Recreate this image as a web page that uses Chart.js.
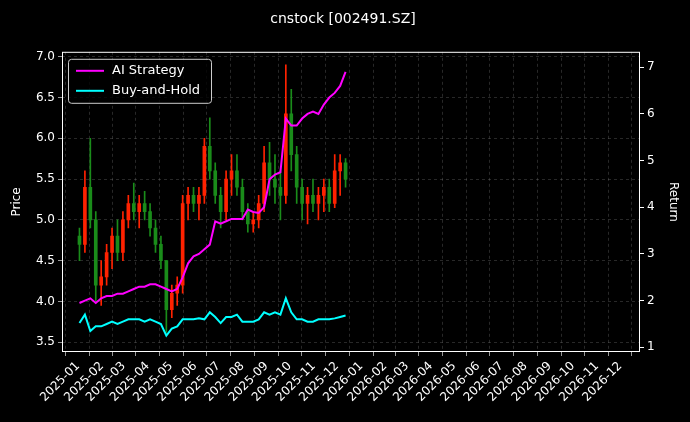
<!DOCTYPE html>
<html>
<head>
<meta charset="utf-8">
<script src="https://cdn.jsdelivr.net/npm/chart.js@4/dist/chart.umd.min.js"></script>
<style>
  html, body { margin: 0; padding: 0; background: #000; }
  #wrap { width: 690px; height: 422px; }
</style>
</head>
<body>
<div id="wrap"><canvas id="c" width="690" height="422"></canvas></div>
<script>
// weekly sample days, counted from 2025-01-01
const days = Array.from({length: 50}, (_, i) => i * 7 + 2);
// candles: open, high, low, close
const opens  = [4.8,4.7,5.4,5.0,4.2,4.3,4.6,4.8,4.6,5.0, 5.2,5.1,5.2,5.1,4.9,4.7,4.5,3.9,4.1,4.2, 5.2,5.3,5.2,5.3,5.9,5.6,5.3,5.1,5.5,5.6, 5.4,5.1,4.95,5.0,5.2,5.7,5.5,5.4,5.3,6.3, 5.8,5.4,5.2,5.3,5.2,5.3,5.4,5.2,5.6,5.7];
const highs  = [4.9,5.6,6.0,5.1,4.5,4.7,4.9,5.0,5.1,5.3, 5.45,5.3,5.35,5.2,5.0,4.8,4.5,4.2,4.3,5.3, 5.4,5.4,5.4,6.0,6.25,5.7,5.4,5.6,5.8,5.8, 5.5,5.2,5.1,5.3,5.9,5.95,5.8,5.6,6.9,6.6, 5.9,5.5,5.4,5.5,5.4,5.5,5.5,5.8,5.8,5.75];
const lows   = [4.5,4.6,4.9,4.0,3.95,4.2,4.4,4.5,4.5,4.9, 5.0,4.9,5.0,4.8,4.6,4.4,3.62,3.8,3.95,4.1, 5.0,5.1,5.0,5.2,5.5,5.2,4.9,5.0,5.3,5.3, 5.0,4.85,4.85,4.9,5.1,5.3,5.2,5.0,5.2,5.6, 5.2,5.0,4.95,5.1,5.0,5.1,5.1,5.15,5.3,5.4];
const closes = [4.7,5.4,5.0,4.2,4.3,4.6,4.8,4.6,5.0,5.2, 5.1,5.2,5.1,4.9,4.7,4.5,3.9,4.1,4.2,5.2, 5.3,5.2,5.3,5.9,5.6,5.3,5.1,5.5,5.6,5.4, 5.1,4.95,5.0,5.2,5.7,5.5,5.4,5.3,6.3,5.8, 5.4,5.2,5.3,5.2,5.3,5.4,5.2,5.6,5.7,5.5];
// cumulative returns
const aiReturn  = [1.95,2.0,2.05,1.95,2.05,2.1,2.1,2.15,2.15,2.2, 2.25,2.3,2.3,2.35,2.35,2.3,2.25,2.2,2.25,2.5, 2.8,2.95,3.0,3.1,3.2,3.7,3.65,3.7,3.75,3.75, 3.75,3.95,3.9,3.88,4.0,4.6,4.7,4.75,5.9,5.75, 5.75,5.9,6.0,6.05,6.0,6.2,6.35,6.45,6.6,6.9];
const bhReturn  = [1.52,1.7,1.35,1.45,1.45,1.5,1.55,1.5,1.55,1.6, 1.6,1.6,1.55,1.6,1.55,1.5,1.25,1.4,1.45,1.6, 1.6,1.6,1.62,1.6,1.75,1.65,1.52,1.65,1.65,1.7, 1.55,1.55,1.55,1.6,1.75,1.7,1.75,1.7,2.05,1.75, 1.6,1.6,1.55,1.55,1.6,1.6,1.6,1.62,1.65,1.68];
const priceTicks = [3.5, 4.0, 4.5, 5.0, 5.5, 6.0, 6.5, 7.0];
const returnTicks = [1, 2, 3, 4, 5, 6, 7];
// month tick labels
const monthLabels = [];
for (let y = 2025; y <= 2026; y++)
  for (let m = 1; m <= 12; m++) monthLabels.push(y + '-' + String(m).padStart(2, '0'));

const t0 = Date.UTC(2025, 0, 1);
const monthDays = monthLabels.map(s => {
  const [y, m] = s.split('-').map(Number);
  return Math.round((Date.UTC(y, m - 1, 1) - t0) / 86400000);
});

const upCol = '#ff2200', dnCol = '#1a8c1a';
const candleCol = opens.map((o, i) => closes[i] >= o ? upCol : dnCol);

const legendBox = {
  id: 'legendBox',
  afterDraw(chart) {
    const ctx = chart.ctx, a = chart.chartArea;
    const x = a.left + 6, y = a.top + 7;
    ctx.save();
    ctx.fillStyle = 'rgba(0,0,0,0.8)';
    ctx.strokeStyle = '#cccccc';
    ctx.lineWidth = 1;
    ctx.beginPath();
    ctx.roundRect(x + 0.5, y + 0.5, 143, 44, 3);
    ctx.fill(); ctx.stroke();
    const items = [['AI Strategy', '#ff00ff'], ['Buy-and-Hold', '#00ffff']];
    ctx.font = '13px "DejaVu Sans"';
    ctx.textBaseline = 'middle';
    items.forEach(([t, c], i) => {
      const yy = y + 12 + i * 20;
      ctx.strokeStyle = c; ctx.lineWidth = 2;
      ctx.beginPath(); ctx.moveTo(x + 8, yy); ctx.lineTo(x + 36, yy); ctx.stroke();
      ctx.fillStyle = '#fff';
      ctx.fillText(t, x + 44, yy);
    });
    ctx.restore();
  }
};

const frame = {
  id: 'frame',
  afterDatasetsDraw(chart) {
    const ctx = chart.ctx, a = chart.chartArea;
    ctx.save();
    ctx.strokeStyle = '#fff'; ctx.lineWidth = 1;
    ctx.strokeRect(a.left + 0.5, a.top + 0.5, a.width - 1, a.height - 1);
    ctx.restore();
  }
};

const gridOpts = { color: 'rgba(150,150,150,0.45)', lineWidth: 0.6, drawTicks: true, tickColor: '#fff', tickLength: 4 };
const border = { display: false, dash: [3, 3] };
const font = { size: 12, family: 'DejaVu Sans' };

new Chart(document.getElementById('c'), {
  data: {
    datasets: [
      { type: 'bar', data: days.map((d, i) => ({x: d, y: [lows[i], highs[i]]})),
        backgroundColor: candleCol, barThickness: 1, grouped: false, yAxisID: 'y', order: 3 },
      { type: 'bar', data: days.map((d, i) => ({x: d, y: [opens[i], closes[i]]})),
        backgroundColor: candleCol, barThickness: 3, grouped: false, yAxisID: 'y', order: 2 },
      { type: 'line', data: days.map((d, i) => ({x: d, y: aiReturn[i]})),
        borderColor: '#ff00ff', borderWidth: 2, pointRadius: 0, tension: 0, yAxisID: 'y1', order: 1 },
      { type: 'line', data: days.map((d, i) => ({x: d, y: bhReturn[i]})),
        borderColor: '#00ffff', borderWidth: 2, pointRadius: 0, tension: 0, yAxisID: 'y1', order: 0 }
    ]
  },
  options: {
    responsive: false,
    animation: false,
    layout: { padding: { left: 6, right: 10 } },
    plugins: {
      legend: { display: false },
      tooltip: { enabled: false },
      title: { display: true, text: 'cnstock [002491.SZ]', color: '#fff',
               font: { size: 14, family: 'DejaVu Sans', weight: 'normal' },
               padding: { top: 11, bottom: 24 } }
    },
    scales: {
      x: {
        type: 'linear', min: -5, max: 709,
        grid: gridOpts, border,
        afterBuildTicks(s) { s.ticks = monthDays.map(v => ({value: v})); },
        afterFit(s) { s.height = 70; },
        ticks: {
          color: '#fff', font,
          minRotation: 45, maxRotation: 45, autoSkip: false,
          callback(v) { const i = monthDays.indexOf(v); return i >= 0 ? monthLabels[i] : ''; }
        }
      },
      y: {
        position: 'left', min: 3.38, max: 7.06,
        grid: gridOpts, border,
        afterBuildTicks(s) { s.ticks = priceTicks.map(v => ({value: v})); },
        afterFit(s) { s.width = 56; },
        title: { display: true, text: 'Price', color: '#fff', font },
        ticks: { color: '#fff', font, callback: v => v.toFixed(1) }
      },
      y1: {
        position: 'right', min: 0.9, max: 7.33,
        grid: { drawOnChartArea: false, tickColor: '#fff', tickLength: 4 }, border,
        afterBuildTicks(s) { s.ticks = returnTicks.map(v => ({value: v})); },
        afterFit(s) { s.width = 40; },
        title: { display: true, text: 'Return', color: '#fff', font, padding: { top: 0, bottom: 2 } },
        ticks: { color: '#fff', font }
      }
    }
  },
  plugins: [legendBox, frame, {
    id: 'bg',
    beforeDraw(c) { c.ctx.save(); c.ctx.fillStyle = '#000'; c.ctx.fillRect(0, 0, c.width, c.height); c.ctx.restore(); }
  }]
});
</script>
</body>
</html>
